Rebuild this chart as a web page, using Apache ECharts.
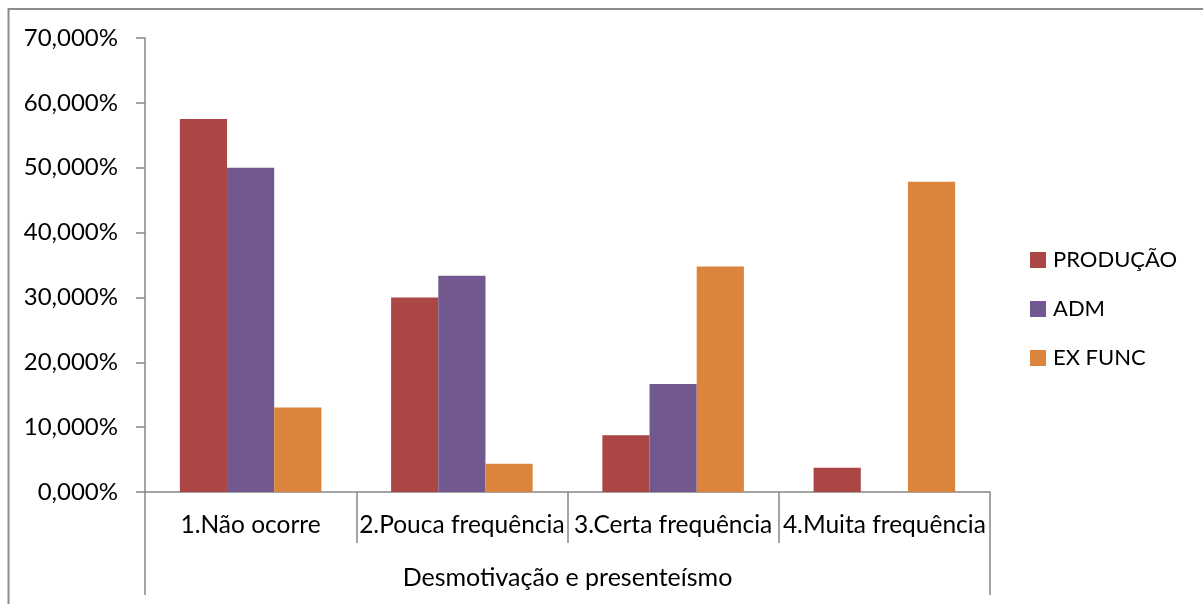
<!DOCTYPE html>
<html>
<head>
<meta charset="utf-8">
<title>Desmotivação e presenteísmo</title>
<script src="https://cdn.jsdelivr.net/npm/echarts@6/dist/echarts.min.js"></script>
<style>
  html, body { margin: 0; padding: 0; background: #ffffff; }
  #chart { width: 1203px; height: 604px; }
</style>
</head>
<body>
<div id="chart"></div>
<script>
// Response categories and the grouping label shown under them
const categories = ['1.Não ocorre', '2.Pouca frequência', '3.Certa frequência', '4.Muita frequência'];
const groupLabel = ['Desmotivação e presenteísmo'];

// Share of answers per group, in percent
const producao = [57.5, 30.0, 8.75, 3.75];
const adm = [50.0, 33.33, 16.67, 0];
const exFunc = [13.04, 4.35, 34.78, 47.83];

const seriesNames = ['PRODUÇÃO', 'ADM', 'EX FUNC'];
const seriesColors = ['#AA4643', '#71588F', '#DB843D'];

const FONT = 'Lato, "Open Sans", sans-serif';
const AXIS_GRAY = '#878787';

const chart = echarts.init(document.getElementById('chart'), null, { renderer: 'canvas' });

const fmtPct = v => v.toFixed(3).replace('.', ',') + '%';

chart.setOption({
  backgroundColor: '#ffffff',
  animation: false,
  textStyle: { fontFamily: FONT, color: '#000' },
  graphic: [{
    type: 'rect',
    shape: { x: 8.5, y: 9, width: 1400, height: 800 },
    style: { fill: 'none', stroke: '#8c8c8c', lineWidth: 2 },
    silent: true
  }],
  grid: { left: 145, right: 213, top: 38, bottom: 112, containLabel: false },
  legend: {
    orient: 'vertical',
    left: 1030,
    top: 249,
    padding: 0,
    itemWidth: 16,
    itemHeight: 16,
    itemGap: 27,
    icon: 'rect',
    data: seriesNames,
    textStyle: { fontFamily: FONT, fontSize: 22, color: '#000', lineHeight: 16, padding: [0, 0, 0, 2] }
  },
  xAxis: [{
    type: 'category',
    data: categories,
    position: 'bottom',
    axisLine: { show: true, lineStyle: { color: AXIS_GRAY, width: 1.5 } },
    axisTick: { show: true, interval: 0, length: 51, lineStyle: { color: AXIS_GRAY, width: 1.5 } },
    axisLabel: { interval: 0, margin: 21, fontSize: 24.5, color: '#000', fontFamily: FONT },
    splitLine: { show: false }
  }, {
    type: 'category',
    data: groupLabel,
    position: 'bottom',
    axisLine: { show: false },
    axisTick: { show: true, interval: 0, length: 103, lineStyle: { color: AXIS_GRAY, width: 1.5 } },
    axisLabel: { interval: 0, margin: 73, fontSize: 25, color: '#000', fontFamily: FONT },
    splitLine: { show: false }
  }],
  yAxis: {
    type: 'value',
    min: 0,
    max: 70,
    interval: 10,
    axisLine: { show: true, lineStyle: { color: AXIS_GRAY, width: 1.5 } },
    axisTick: { show: true, length: 9, lineStyle: { color: AXIS_GRAY, width: 1.5 } },
    axisLabel: { margin: 27, fontSize: 24, color: '#000', fontFamily: FONT, formatter: fmtPct },
    splitLine: { show: false }
  },
  series: [producao, adm, exFunc].map((values, i) => ({
    name: seriesNames[i],
    type: 'bar',
    xAxisIndex: 0,
    data: values,
    barGap: '0%',
    barCategoryGap: '33%',
    itemStyle: { color: seriesColors[i] }
  }))
});
</script>
</body>
</html>
